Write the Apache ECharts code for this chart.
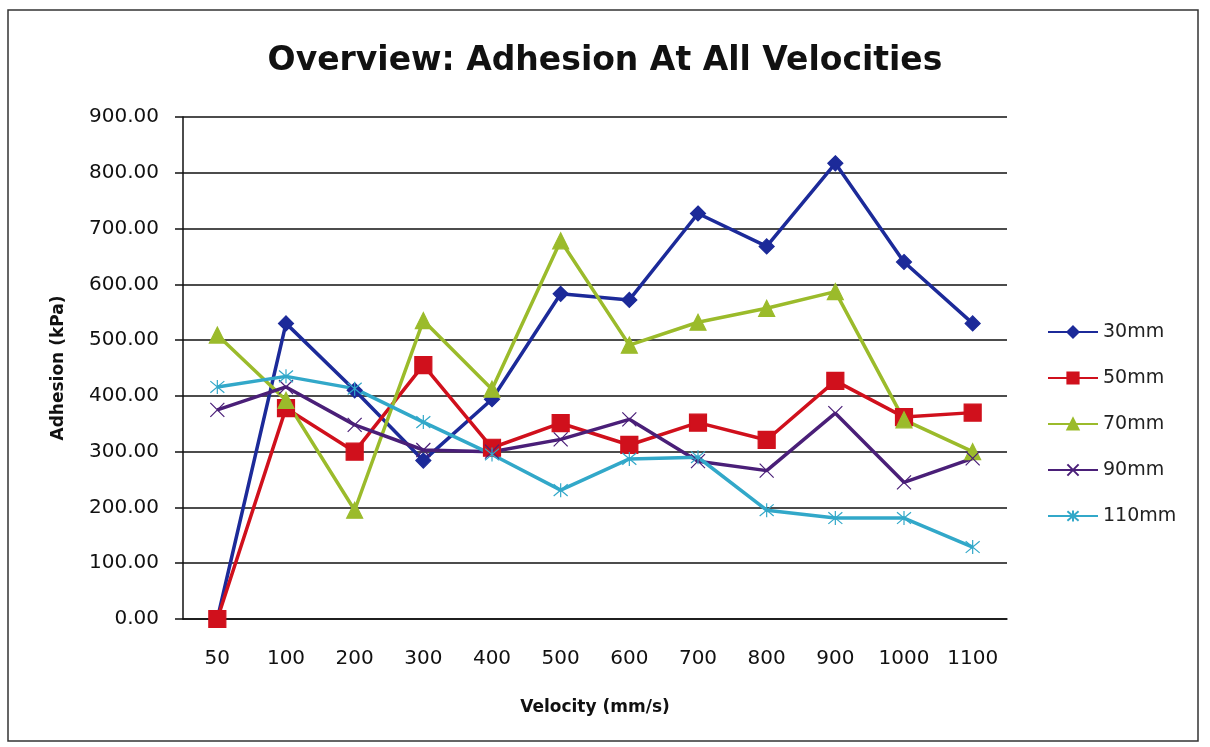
<!DOCTYPE html>
<html>
<head>
<meta charset="utf-8">
<script src="https://cdn.jsdelivr.net/npm/echarts@6/dist/echarts.min.js"></script>
<style>
  html, body { margin: 0; padding: 0; background: #ffffff; }
  #chart { width: 1210px; height: 747px; }
</style>
</head>
<body>
<div id="chart"></div>
<script>
// Velocity categories (mm/s)
const velocities = ['50', '100', '200', '300', '400', '500', '600', '700', '800', '900', '1000', '1100'];

// Adhesion (kPa) per probe diameter
const adhesion30mm  = [0, 530, 410, 284, 394, 583, 572, 727, 668, 817, 640, 530];
const adhesion50mm  = [0, 378, 300, 455, 307, 351, 312, 352, 321, 427, 362, 370];
const adhesion70mm  = [509, 392, 195, 535, 412, 678, 491, 532, 557, 587, 357, 300];
const adhesion90mm  = [375, 416, 348, 303, 300, 322, 358, 283, 266, 369, 245, 288];
const adhesion110mm = [416, 435, 413, 353, 295, 231, 287, 290, 195, 181, 181, 129];

const seriesNames = ['30mm', '50mm', '70mm', '90mm', '110mm'];

const FONT = '"DejaVu Sans", "Open Sans", sans-serif';

// Marker shapes drawn as stroked paths
const crossPath = 'path://M0,0L10,10M10,0L0,10';
const starPath = 'path://M0,0L10,10M10,0L0,10M5,-1L5,11';

function lineSeries(name, data, color, symbol, size) {
  return {
    name: name,
    type: 'line',
    data: data,
    symbol: symbol,
    symbolSize: size,
    showAllSymbol: true,
    lineStyle: { color: color, width: 3.5 },
    itemStyle: { color: color, borderColor: color, borderWidth: 1.2 },
    emphasis: { disabled: true },
    animation: false
  };
}

const chart = echarts.init(document.getElementById('chart'));
chart.setOption({
  backgroundColor: '#ffffff',
  animation: false,
  graphic: [{
    type: 'rect',
    shape: { x: 8, y: 10, width: 1190, height: 731 },
    style: { fill: 'none', stroke: '#333333', lineWidth: 1.5 },
    silent: true
  }],
  title: {
    text: 'Overview: Adhesion At All Velocities',
    left: 'center',
    top: 40,
    textStyle: { fontFamily: FONT, fontSize: 33, fontWeight: 'bold', color: '#111111' }
  },
  legend: {
    orient: 'vertical',
    left: 1042,
    top: 317,
    itemWidth: 50,
    itemHeight: 14,
    itemGap: 26,
    textStyle: { fontFamily: FONT, fontSize: 19, color: '#222222', lineHeight: 20 },
    data: seriesNames
  },
  grid: { left: 183, right: 203, top: 117, bottom: 128, containLabel: false },
  xAxis: {
    type: 'category',
    data: velocities,
    boundaryGap: true,
    name: 'Velocity (mm/s)',
    nameLocation: 'middle',
    nameGap: 80,
    nameTextStyle: { fontFamily: FONT, fontSize: 17, fontWeight: 'bold', color: '#111111' },
    axisLine: { show: true, lineStyle: { color: '#111111', width: 1.5 } },
    axisTick: { show: false },
    axisLabel: { fontFamily: FONT, fontSize: 20, color: '#111111', margin: 30, interval: 0 }
  },
  yAxis: {
    type: 'value',
    min: 0,
    max: 900,
    interval: 100,
    name: 'Adhesion (kPa)',
    nameLocation: 'middle',
    nameGap: 116,
    nameTextStyle: { fontFamily: FONT, fontSize: 17, fontWeight: 'bold', color: '#111111' },
    axisLine: { show: true, lineStyle: { color: '#111111', width: 1.5 } },
    axisTick: { show: true, inside: false, length: 8, lineStyle: { color: '#111111', width: 1.5 } },
    axisLabel: {
      fontFamily: FONT, fontSize: 20, color: '#111111', margin: 24,
      formatter: function (v) { return v.toFixed(2); }
    },
    splitLine: { show: true, lineStyle: { color: '#111111', width: 1.5 } }
  },
  series: [
    lineSeries('30mm', adhesion30mm, '#1c2a99', 'diamond', 15),
    lineSeries('50mm', adhesion50mm, '#d0101c', 'rect', 17),
    lineSeries('70mm', adhesion70mm, '#9bbb2b', 'triangle', 16),
    lineSeries('90mm', adhesion90mm, '#4a1f78', crossPath, 14),
    lineSeries('110mm', adhesion110mm, '#32a8c9', starPath, 14)
  ]
});
</script>
</body>
</html>
